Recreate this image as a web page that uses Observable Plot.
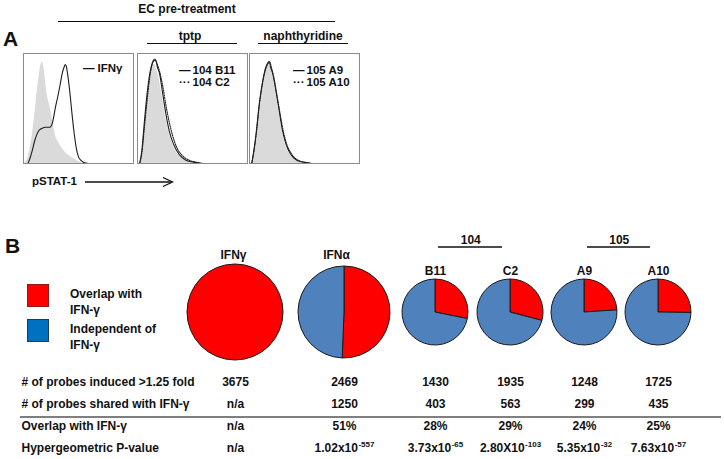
<!DOCTYPE html>
<html><head><meta charset="utf-8">
<script src="https://cdn.jsdelivr.net/npm/d3@7"></script>
<script src="https://cdn.jsdelivr.net/npm/@observablehq/plot@0.6"></script>
<style>
body{margin:0;background:#fff}
#fig{position:relative;width:724px;height:459px;overflow:hidden;font-family:"Liberation Sans",Arial,sans-serif;font-weight:bold;color:#111}
#fig svg{position:absolute;overflow:visible}
.t{position:absolute;white-space:nowrap;transform:translate(-50%,-50%);line-height:1}
.l{position:absolute;white-space:nowrap;transform:translate(0,-50%);line-height:1}
.hl{position:absolute;height:0;border-top:1.3px solid #111}
.sq{position:absolute;width:20px;height:21px}
</style></head><body><div id="fig"></div>
<script>
// ---------- Panel A data (flow cytometry histograms, pSTAT-1 channel vs. count, % of max) ----------
const ctrl1   = [[1,0],[4,5],[6,14],[8,26],[11,51],[14,78],[16,90],[17,92],[18,90],[19,84],[21,66],[24,52],[26,42],[29,26],[32,19],[35,14],[39,9],[43,6],[48,3],[52,1],[58,0]];
const ifng    = [[4,0],[6,5],[8,12],[10,20],[12,26],[14,30],[17,32],[20,33],[24,33],[26,36],[27,40],[29,51],[31,60],[33,70],[35,81],[37,88],[38,90],[39,88],[40,82],[42,66],[44,46],[46,28],[48,14],[50,6],[52,3],[55,1],[59,0]];
const ctrl2   = [[2,0],[4,10],[6,30],[9,60],[12,82],[15,90],[17,87],[20,75],[23,58],[26,40],[29,27],[33,15],[38,7],[44,3],[52,1],[58,0]];
const b11     = [[2,0],[4,12],[6,35],[9,66],[12,86],[14,93],[15.5,95],[17,93],[18,88],[20,82],[23,63],[26,44],[29,29],[33,17],[38,8],[44,3],[52,1],[58,0]];
const c2      = [[2,0],[4,10],[6,30],[9,60],[12,84],[14,92],[16,94],[18,90],[20,84],[23,70],[26,52],[29,37],[32,25],[36,14],[41,7],[47,3],[54,1],[60,0]];
const ctrl3   = [[2,0],[4,10],[6,24],[9,52],[12,72],[15,86],[17,90],[19,87],[21,80],[24,64],[27,46],[30,28],[33,16],[37,8],[43,3],[50,1],[56,0]];
const a9      = [[2,0],[4,12],[6,27],[9,55],[12,75],[15,88],[17,92],[18,93],[19,88],[21,82],[24,66],[27,48],[30,30],[33,18],[37,9],[43,3],[50,1],[56,0]];
const a10     = [[2,0],[4,11],[6,26],[9,54],[12,74],[15,87],[17,91],[18.5,92],[20,87],[22,79],[25,62],[28,44],[31,28],[34,17],[38,9],[44,3],[51,1],[57,0]];
const histLegends = [["IFNγ"], ["104 B11","104 C2"], ["105 A9","105 A10"]];
const histGroups  = ["", "tptp", "naphthyridine"];

// ---------- Panel B data ----------
const conditionLabels = ["IFNγ","IFNα","B11","C2","A9","A10"];
const compoundGroups  = ["104","105"];
const groupMembers    = [[2,3],[4,5]];
const induced    = [3675, 2469, 1430, 1935, 1248, 1725];
const shared     = [null, 1250, 403, 563, 299, 435];
const overlapPct = [null, 51, 28, 29, 24, 25];
const pMantissa  = [null, "1.02", "3.73", "2.80", "5.35", "7.63"];
const pTimes     = [null, "x", "x", "X", "x", "x"];
const pExponent  = [null, -557, -65, -103, -32, -57];
const rowKeys    = ["induced","shared","overlap","pvalue"];
const rowLabels  = ["# of probes induced >1.25 fold","# of probes shared with IFN-γ","Overlap with IFN-γ","Hypergeometric P-value"];
const legendLabels = [["Overlap with","IFN-γ"],["Independent of","IFN-γ"]];

// ---------- layout / style ----------
const FONT = "'Liberation Sans', Arial, sans-serif";
const RED = "#FF0000", BLUE = "#4F81BD";
const colX = [235, 344, 435, 510, 584, 658];
const pieR = [48, 46, 33, 33, 33, 33];
const fig = document.getElementById("fig");

function place(el, left, top){ el.style.left = left+"px"; el.style.top = top+"px"; fig.appendChild(el); return el; }
function txt(s, cls, left, top, size){ const d=document.createElement("div"); d.className=cls; d.textContent=s; d.style.fontSize=size+"px"; return place(d,left,top); }
function hline(x1,x2,y){ const d=document.createElement("div"); d.className="hl"; d.style.width=(x2-x1)+"px"; return place(d,x1,y); }

// Panel A header
txt("EC pre-treatment","t",187,9,12); hline(58,335,21);
txt("A","l",3,38,21);
txt(histGroups[1],"t",190,36,12); hline(147,237,43);
txt(histGroups[2],"t",303,36,12); hline(258,348,43);

// Histograms
const boxLeft = [23,137,249];
const histSets = [
  {fill: ctrl1, lines: [{d: ifng, dash: null}]},
  {fill: ctrl2, lines: [{d: b11, dash: null},{d: c2, dash: "1.2,1.2"}]},
  {fill: ctrl3, lines: [{d: a9, dash: null},{d: a10, dash: "1.2,1.2"}]}
];
const legDx = [[71,74],[53,55],[55,57]];
histSets.forEach((h,k)=>{
  const marks = [
    Plot.areaY(h.fill, {x: d=>d[0], y: d=>d[1], fill: "#dadada", curve: "monotone-x"}),
    ...h.lines.map(s => Plot.line(s.d, {x: d=>d[0], y: d=>d[1], stroke: "#1e1e1e", strokeWidth: 1.1, strokeDasharray: s.dash, curve: "monotone-x"})),
    Plot.frame({stroke: "#8a8a8a"})
  ];
  histLegends[k].forEach((lab,j)=>{
    const dy = (k===0?15:17)+12*j;
    marks.push(Plot.text([lab], {text: d=>d, frameAnchor: "top-left", lineAnchor: "middle", textAnchor: "start", dx: legDx[k][1], dy, fontSize: 11.5}));
    marks.push(Plot.text([j===0?"—":"···"], {text: d=>d, frameAnchor: "top-left", lineAnchor: "middle", textAnchor: "end", dx: legDx[k][0], dy, fontSize: 11.5}));
  });
  const p = Plot.plot({width: 110, height: 110, margin: 0, x: {domain: [0,100], axis: null}, y: {domain: [0,100], axis: null},
    style: {fontFamily: FONT, fontWeight: "bold", background: "transparent", overflow: "visible", color: "#111"}, marks});
  place(p, boxLeft[k], 53);
});

// pSTAT-1 arrow
txt("pSTAT-1","l",32,182,11.5);
const arr = d3.create("svg").attr("width",724).attr("height",459).style("left","0px").style("top","0px");
arr.append("line").attr("x1",85).attr("x2",172).attr("y1",182).attr("y2",182).attr("stroke","#111").attr("stroke-width",1.3);
arr.append("polyline").attr("points","163,177.5 172.5,182 163,186.5").attr("fill","none").attr("stroke","#111").attr("stroke-width",1.3);
fig.appendChild(arr.node());

// Panel B
txt("B","l",5,245,21);
legendLabels.forEach((ls,k)=>{
  const sq=document.createElement("div"); sq.className="sq";
  sq.style.background = k===0 ? RED : "#0070C0";
  sq.style.border = "1px solid " + (k===0 ? "#8b1a1a" : "#1f3b5c");
  place(sq,27,284+35*k);
  ls.forEach((s,j)=>txt(s,"l",70,294+35*k+16*j,12));
});

const PIE_TOP = 226;
const xCols = {type: "linear", domain: d3.range(conditionLabels.length), range: colX};
function pieMark(index, scales){
  const X = typeof scales.x === "function" ? scales.x : d3.scaleLinear(d3.range(6), colX);
  const g = d3.create("svg:g");
  conditionLabels.forEach((c,i)=>{
    const sh = shared[i] == null ? induced[i] : shared[i];
    const parts = [{k: RED, v: sh}, {k: BLUE, v: induced[i]-sh}];
    const arcs = d3.pie().sort(null).value(d=>d.v)(parts).filter(a=>a.data.v>0);
    const arc = d3.arc().innerRadius(0).outerRadius(pieR[i]);
    g.append("g").attr("transform",`translate(${X(i)},${312-PIE_TOP})`)
      .selectAll("path").data(arcs).join("path")
      .attr("d",arc).attr("fill",a=>a.data.k).attr("stroke","#1a1a1a").attr("stroke-width",1);
  });
  return g.node();
}
function groupRules(index, scales){
  const X = typeof scales.x === "function" ? scales.x : d3.scaleLinear(d3.range(6), colX);
  const g = d3.create("svg:g");
  groupMembers.forEach(m=>{
    g.append("line").attr("x1",X(m[0])+3).attr("x2",X(m[1])-8).attr("y1",247-PIE_TOP).attr("y2",247-PIE_TOP)
      .attr("stroke","#111").attr("stroke-width",1.3);
  });
  return g.node();
}
const idx = d3.range(conditionLabels.length);
const pies = Plot.plot({width: 724, height: 144, margin: 0, x: {...xCols, axis: null},
  style: {fontFamily: FONT, fontWeight: "bold", fontSize: "12px", background: "transparent", overflow: "visible", color: "#111"},
  marks: [
    pieMark, groupRules,
    Plot.text(compoundGroups, {x: (d,i)=>d3.mean(groupMembers[i]) - 0.03, text: d=>d, frameAnchor: "top", lineAnchor: "middle", dy: 240-PIE_TOP}),
    Plot.text([0], {x: d=>d, text: d=>conditionLabels[d], frameAnchor: "top", lineAnchor: "middle", dy: 255-PIE_TOP, dx: -2}),
    Plot.text([1], {x: d=>d, text: d=>conditionLabels[d], frameAnchor: "top", lineAnchor: "middle", dy: 255-PIE_TOP, dx: -8}),
    Plot.text(idx.filter(i=>i>=2), {x: d=>d, text: d=>conditionLabels[d], frameAnchor: "top", lineAnchor: "middle", dy: 271-PIE_TOP})
  ]});
place(pies, 0, PIE_TOP);

// Table
const cells = [];
idx.forEach(i=>{
  cells.push({row:"induced", col:i, text:String(induced[i])});
  cells.push({row:"shared", col:i, text: shared[i]==null ? "n/a" : String(shared[i])});
  cells.push({row:"overlap", col:i, text: overlapPct[i]==null ? "n/a" : overlapPct[i]+"%"});
  if (pMantissa[i]==null) cells.push({row:"pvalue", col:i, text:"n/a"});
});
const ctx = document.createElement("canvas").getContext("2d");
function tw(s,px){ ctx.font = `bold ${px}px "Liberation Sans", Arial, sans-serif`; return ctx.measureText(s).width; }
const pMarks = [];
idx.filter(i=>pMantissa[i]!=null).forEach(i=>{
  const base = pMantissa[i] + pTimes[i] + "10", ex = String(pExponent[i]);
  const wb = tw(base,12), we = tw(ex,8), tot = wb + we + 0.5;
  pMarks.push(Plot.text([i], {x: d=>d, y: ()=>"pvalue", text: ()=>base, textAnchor: "start", dx: -tot/2}));
  pMarks.push(Plot.text([i], {x: d=>d, y: ()=>"pvalue", text: ()=>ex, textAnchor: "start", dx: -tot/2 + wb + 0.5, dy: -4, fontSize: 8}));
});
const TABLE_TOP = 370;
const table = Plot.plot({width: 724, height: 89, margin: 0, x: {...xCols, axis: null}, y: {type: "point", domain: rowKeys, axis: null},
  style: {fontFamily: FONT, fontWeight: "bold", fontSize: "12px", background: "transparent", overflow: "visible", color: "#111"},
  marks: [
    Plot.ruleY(["overlap"], {y: d=>d, dy: -9.5, insetLeft: 20, insetRight: 3, stroke: "#7f7f7f", strokeWidth: 1.8}),
    Plot.text(rowKeys, {y: d=>d, text: (d,i)=>rowLabels[i], frameAnchor: "left", textAnchor: "start", dx: 21}),
    Plot.text(cells, {x: "col", y: "row", text: "text"}),
    ...pMarks
  ]});
place(table, 0, TABLE_TOP);
</script></body></html>
